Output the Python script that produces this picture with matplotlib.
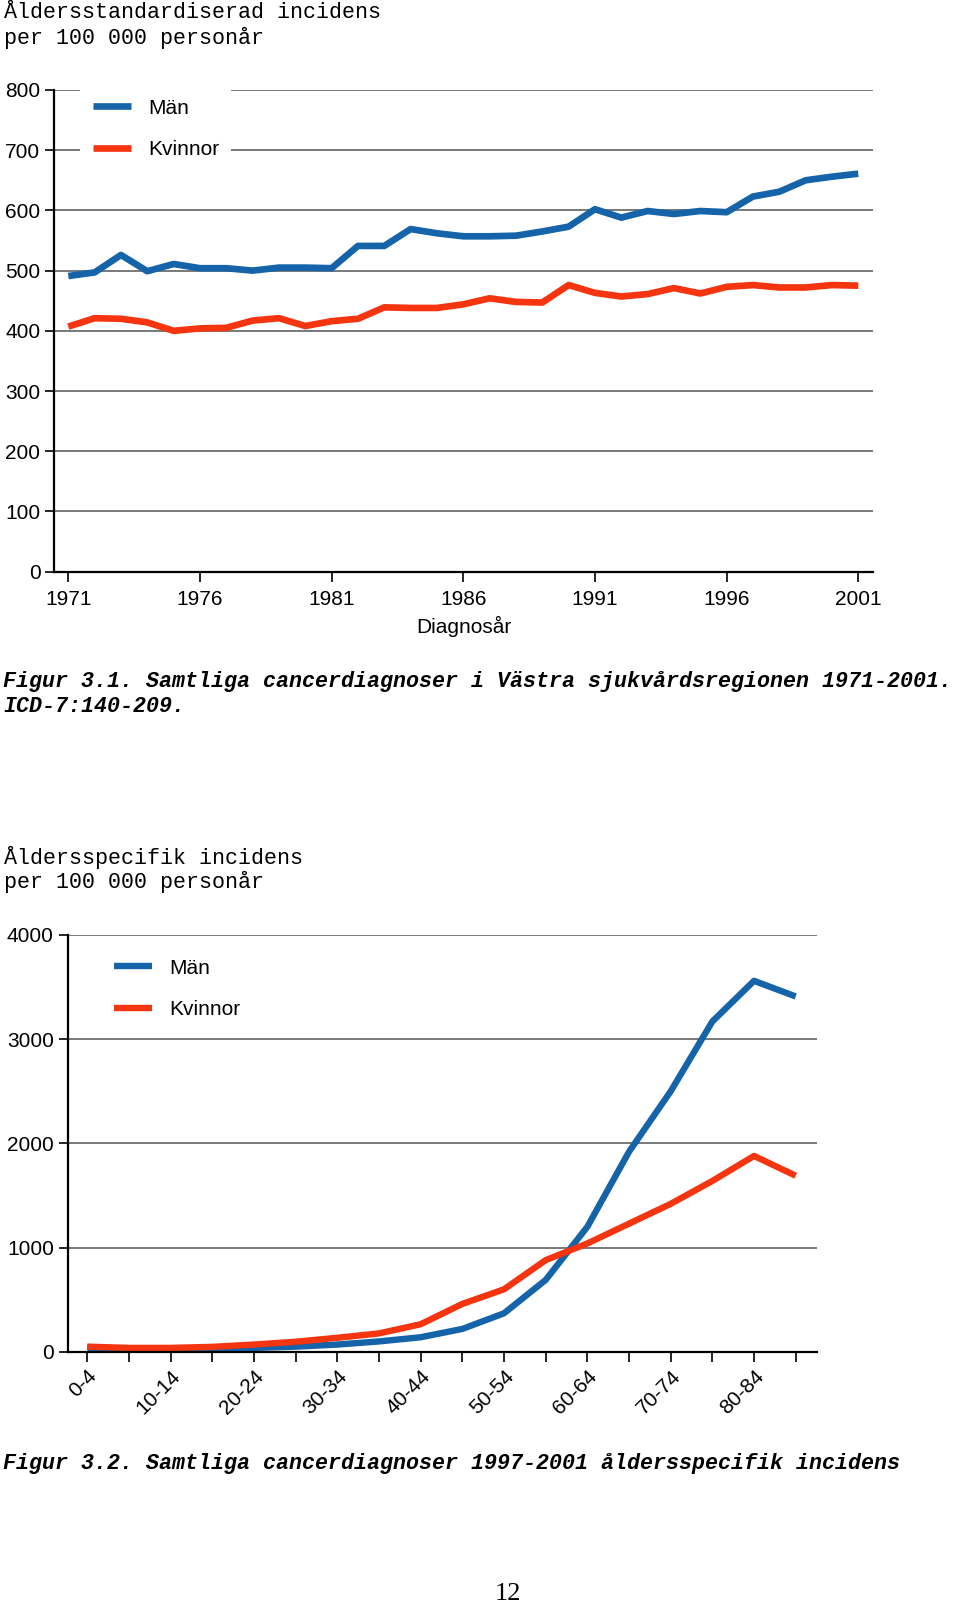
import matplotlib
matplotlib.use("Agg")
import matplotlib.pyplot as plt

# ---- data ----
years = list(range(1971, 2002))
men_std = [491, 497, 526, 499, 511, 504, 504, 500, 505, 505, 504, 541, 541, 569, 562, 557,
           557, 558, 565, 573, 602, 588, 599, 594, 599, 597, 623, 631, 650, 656, 661]
women_std = [407, 421, 420, 414, 400, 404, 405, 417, 421, 408, 416, 420, 439, 438, 438, 444,
             454, 448, 447, 476, 463, 457, 461, 471, 462, 473, 476, 472, 472, 476, 475]
year_ticks = [1971, 1976, 1981, 1986, 1991, 1996, 2001]
std_yticks = [0, 100, 200, 300, 400, 500, 600, 700, 800]

age_groups = ['0-4', '5-9', '10-14', '15-19', '20-24', '25-29', '30-34', '35-39', '40-44',
              '45-49', '50-54', '55-59', '60-64', '65-69', '70-74', '75-79', '80-84', '85+']
men_age = [40, 25, 22, 28, 38, 50, 70, 100, 140, 220, 370, 690, 1200, 1920, 2500, 3170, 3560, 3410]
women_age = [50, 38, 38, 48, 70, 97, 135, 177, 265, 460, 600, 880, 1040, 1230, 1420, 1640, 1880, 1690]
age_yticks = [0, 1000, 2000, 3000, 4000]

labels = ['Män', 'Kvinnor']
BLUE = '#1563a8'
RED = '#f5350f'
GRID = '#555555'

plt.rcParams['font.family'] = ['Liberation Sans', 'DejaVu Sans']
TICK_FS = 15
MONO = ['Liberation Mono', 'DejaVu Sans Mono']
CAP_FS = 15.6


def style_axes(ax):
    ax.spines['top'].set_visible(False)
    ax.spines['right'].set_visible(False)
    ax.spines['left'].set_linewidth(1.6)
    ax.spines['bottom'].set_linewidth(1.6)
    ax.yaxis.grid(True, color=GRID, lw=1.1)
    ax.set_axisbelow(True)
    ax.tick_params(axis='both', direction='out', width=1.2, colors='black',
                   labelsize=TICK_FS, pad=3.5)
    ax.tick_params(axis='y', length=6.5)
    ax.tick_params(axis='x', length=7, pad=6.5)


def add_legend(ax, anchor):
    ax.legend(loc='upper left', bbox_to_anchor=anchor, borderaxespad=0,
              frameon=True, facecolor='white', edgecolor='none', framealpha=1,
              fancybox=False, fontsize=TICK_FS, handlelength=1.85, handletextpad=0.8,
              labelspacing=1.08, borderpad=0.6)


fig = plt.figure(figsize=(9.6, 16.04), dpi=100)

# ---- figure 3.1 ----
ax1 = fig.add_axes([0.0566, 0.6436, 0.8528, 0.3003])
ax1.plot(years, men_std, color=BLUE, lw=4.8, label=labels[0], solid_capstyle='butt')
ax1.plot(years, women_std, color=RED, lw=4.8, label=labels[1], solid_capstyle='butt')
ax1.set_xlim(1970.47, 2001.56)
ax1.set_ylim(0, 800)
ax1.set_yticks(std_yticks)
ax1.set_xticks(year_ticks)
style_axes(ax1)
ax1.set_xlabel('Diagnosår', fontsize=TICK_FS, labelpad=4.8)
add_legend(ax1, (0.0314, 1.008))

fig.text(4 / 960, 1 - 12.5 / 1604, 'Åldersstandardiserad incidens', family=MONO,
         fontsize=CAP_FS, va='center', ha='left')
fig.text(4 / 960, 1 - 37.5 / 1604, 'per 100 000 personår', family=MONO,
         fontsize=CAP_FS, va='center', ha='left')
fig.text(3 / 960, 1 - 681 / 1604,
         'Figur 3.1. Samtliga cancerdiagnoser i Västra sjukvårdsregionen 1971-2001.',
         family=MONO, fontsize=CAP_FS, weight='bold', style='italic', va='center', ha='left')
fig.text(3 / 960, 1 - 706.5 / 1604, 'ICD-7:140-209.', family=MONO, fontsize=CAP_FS,
         weight='bold', style='italic', va='center', ha='left')

# ---- figure 3.2 ----
ax2 = fig.add_axes([0.0705, 0.1572, 0.7805, 0.2599])
pos = list(range(len(age_groups)))
ax2.plot(pos, men_age, color=BLUE, lw=4.6, label=labels[0], solid_capstyle='butt')
ax2.plot(pos, women_age, color=RED, lw=4.6, label=labels[1], solid_capstyle='butt')
ax2.set_xlim(-0.47, 17.51)
ax2.set_ylim(0, 4000)
ax2.set_yticks(age_yticks)
ax2.set_xticks(pos)
ax2.set_xticklabels([g if i % 2 == 0 else '' for i, g in enumerate(age_groups)],
                    rotation=45, ha='right', rotation_mode='anchor')
style_axes(ax2)
ax2.tick_params(axis='x', pad=3.5)
add_legend(ax2, (0.0446, 0.9735))

fig.text(4 / 960, 1 - 857 / 1604, 'Åldersspecifik incidens', family=MONO,
         fontsize=CAP_FS, va='center', ha='left')
fig.text(4 / 960, 1 - 882 / 1604, 'per 100 000 personår', family=MONO,
         fontsize=CAP_FS, va='center', ha='left')
fig.text(3 / 960, 1 - 1464 / 1604,
         'Figur 3.2. Samtliga cancerdiagnoser 1997-2001 åldersspecifik incidens',
         family=MONO, fontsize=CAP_FS, weight='bold', style='italic', va='center', ha='left')

fig.text(508 / 960, 1 - 1594 / 1604, '12', family=['Liberation Serif', 'DejaVu Serif'],
         fontsize=19, va='center', ha='center')

fig.savefig('out.png', dpi=100, facecolor='white')
